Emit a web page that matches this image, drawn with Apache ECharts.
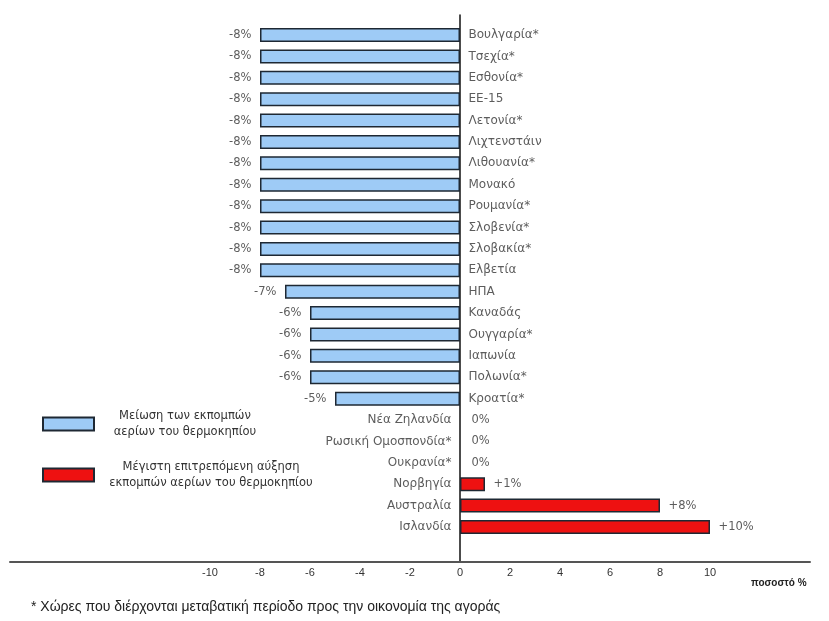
<!DOCTYPE html>
<html>
<head>
<meta charset="utf-8">
<script src="https://cdn.jsdelivr.net/npm/echarts@6/dist/echarts.min.js"></script>
<style>
  html, body { margin: 0; padding: 0; background: #fff; }
  #chart { width: 829px; height: 621px; }
</style>
</head>
<body>
<div id="chart"></div>
<script>
// χώρες από πάνω προς τα κάτω
const categories = [
  'Βουλγαρία*', 'Τσεχία*', 'Εσθονία*', 'ΕΕ-15', 'Λετονία*', 'Λιχτενστάιν',
  'Λιθουανία*', 'Μονακό', 'Ρουμανία*', 'Σλοβενία*', 'Σλοβακία*', 'Ελβετία',
  'ΗΠΑ', 'Καναδάς', 'Ουγγαρία*', 'Ιαπωνία', 'Πολωνία*', 'Κροατία*',
  'Νέα Ζηλανδία', 'Ρωσική Ομοσπονδία*', 'Ουκρανία*', 'Νορβηγία', 'Αυστραλία', 'Ισλανδία'
]
const values = [
  -8, -8, -8, -8, -8, -8,
  -8, -8, -8, -8, -8, -8,
  -7, -6, -6, -6, -6, -5,
  0, 0, 0, 1, 8, 10
]
const tickLabels = [-10, -8, -6, -4, -2, 0, 2, 4, 6, 8, 10]

const legendDown = 'Μείωση των εκπομπών\nαερίων του θερμοκηπίου'
const legendUp = 'Μέγιστη επιτρεπόμενη αύξηση\nεκπομπών αερίων του θερμοκηπίου'
const footnote = '* Χώρες που διέρχονται μεταβατική περίοδο προς την οικονομία της αγοράς'

const font = 'DejaVu Sans, Verdana, sans-serif'
const plain = 'Liberation Sans, Arial, sans-serif'
const border = '#1e2833'

const chart = echarts.init(document.getElementById('chart'))

const centered = txt => txt.split('\n').map(l => '{c|' + l + '}').join('\n')

const option = {
  backgroundColor: '#fff',
  animation: false,
  title: [
    {
      text: footnote,
      left: 26,
      top: 595,
      textStyle: { fontFamily: plain, fontSize: 14, fontWeight: 'normal', color: '#222' }
    },
    {
      text: 'ποσοστό %',
      left: 746,
      top: 573,
      textStyle: { fontFamily: plain, fontSize: 10, fontWeight: 'bold', color: '#222' }
    }
  ],
  legend: [
    {
      data: [{ name: legendDown, icon: 'rect' }],
      left: 37,
      top: 405,
      orient: 'vertical',
      itemWidth: 51,
      itemHeight: 13,
      itemGap: 4,
      selectedMode: false,
      formatter: t => centered(t),
      textStyle: {
        rich: { c: { width: 172, align: 'center', fontFamily: font, fontSize: 11.5, lineHeight: 16, color: '#333' } }
      }
    },
    {
      data: [{ name: legendUp, icon: 'rect' }],
      left: 37,
      top: 456,
      orient: 'vertical',
      itemWidth: 51,
      itemHeight: 13,
      itemGap: 4,
      selectedMode: false,
      formatter: t => centered(t),
      textStyle: {
        rich: { c: { width: 224, align: 'center', fontFamily: font, fontSize: 11.5, lineHeight: 16, color: '#333' } }
      }
    }
  ],
  grid: [
    { left: 10, right: 19, top: 15, bottom: 59 },
    { left: 10, right: 19, top: 24.3, height: 513.4 }
  ],
  xAxis: [
    {
      type: 'value',
      gridIndex: 0,
      min: -18,
      max: 14,
      interval: 2,
      axisLine: { onZero: false, lineStyle: { color: '#555', width: 2 } },
      axisTick: { show: false },
      splitLine: { show: false },
      axisLabel: {
        margin: 5,
        fontFamily: plain,
        fontSize: 11,
        color: '#333',
        formatter: v => (tickLabels.indexOf(v) >= 0 ? String(v) : '')
      }
    },
    {
      type: 'value',
      gridIndex: 1,
      min: -18,
      max: 14,
      show: false
    }
  ],
  yAxis: [
    {
      type: 'value',
      gridIndex: 0,
      min: 0,
      max: 1,
      axisLine: { show: true, onZero: true, lineStyle: { color: '#111', width: 1.5 } },
      axisTick: { show: false },
      axisLabel: { show: false },
      splitLine: { show: false }
    },
    {
      type: 'category',
      gridIndex: 1,
      data: categories,
      inverse: true,
      show: false
    }
  ],
  series: [
    {
      name: legendDown,
      type: 'bar',
      xAxisIndex: 1,
      yAxisIndex: 1,
      barWidth: 14,
      barGap: '-100%',
      data: values.map(v => (v < 0 ? v : '-')),
      itemStyle: { color: '#9ecbf6', borderColor: border, borderWidth: 1.5 }
    },
    {
      name: legendUp,
      type: 'bar',
      xAxisIndex: 1,
      yAxisIndex: 1,
      barWidth: 14,
      barGap: '-100%',
      data: values.map(v => (v > 0 ? v : '-')),
      itemStyle: { color: '#ee1111', borderColor: border, borderWidth: 1.5 }
    },
    // ονόματα χωρών δίπλα στον άξονα του μηδενός
    {
      type: 'scatter',
      xAxisIndex: 1,
      yAxisIndex: 1,
      symbolSize: 1,
      itemStyle: { color: 'transparent' },
      silent: true,
      data: categories.map((c, i) => ({
        value: [0, i],
        label: { position: values[i] < 0 ? 'right' : 'left' }
      })),
      label: {
        show: true,
        distance: 8,
        fontFamily: font,
        fontSize: 12,
        color: '#333',
        formatter: p => categories[p.value[1]]
      }
    },
    // ποσοστά στην άκρη κάθε μπάρας
    {
      type: 'scatter',
      xAxisIndex: 1,
      yAxisIndex: 1,
      symbolSize: 1,
      itemStyle: { color: 'transparent' },
      silent: true,
      data: values.map((v, i) => ({
        value: [v, i],
        label: { position: v < 0 ? 'left' : 'right', distance: v === 0 ? 11 : 8 }
      })),
      label: {
        show: true,
        fontFamily: font,
        fontSize: 11.5,
        color: '#333',
        formatter: p => (p.value[0] > 0 ? '+' : '') + p.value[0] + '%'
      }
    }
  ]
}

chart.setOption(option)
</script>
</body>
</html>
